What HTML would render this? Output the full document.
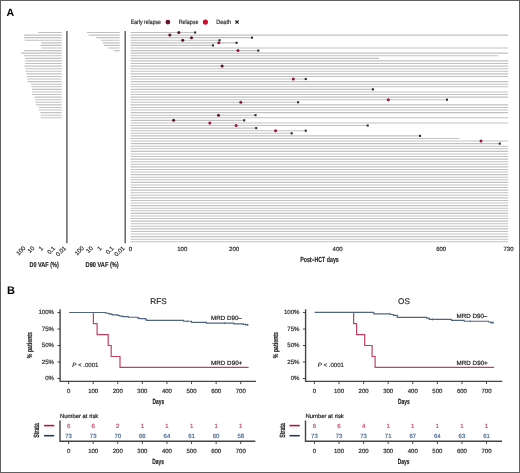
<!DOCTYPE html><html><head><meta charset="utf-8"><style>html,body{margin:0;padding:0;background:#fff}svg{display:block;will-change:transform}text{text-rendering:geometricPrecision;font-family:"Liberation Sans", sans-serif}</style></head><body>
<svg width="520" height="473" viewBox="0 0 520 473">
<rect x="0" y="0" width="520" height="473" fill="#fff"/>
<text x="6.60" y="15.70" font-size="10.60" fill="#000" text-anchor="start" font-weight="bold">A</text>
<text x="7.00" y="294.20" font-size="11.00" fill="#000" text-anchor="start" font-weight="bold">B</text>
<text x="130.80" y="24.40" font-size="6.10" fill="#333" text-anchor="start" stroke="#333" stroke-width="0.20" textLength="30.20" lengthAdjust="spacingAndGlyphs">Early relapse</text>
<circle cx="167.9" cy="22.1" r="2.4" fill="#6b1030"/>
<text x="178.70" y="24.40" font-size="6.10" fill="#333" text-anchor="start" stroke="#333" stroke-width="0.20" textLength="19.80" lengthAdjust="spacingAndGlyphs">Relapse</text>
<circle cx="205.4" cy="22.1" r="2.6" fill="#c8102e"/>
<text x="216.20" y="24.40" font-size="6.10" fill="#333" text-anchor="start" stroke="#333" stroke-width="0.20" textLength="14.90" lengthAdjust="spacingAndGlyphs">Death</text>
<path d="M235.40 20.50L238.60 23.70M235.40 23.70L238.60 20.50" stroke="#222" stroke-width="1.15" fill="none"/>
<path d="M37.90 32.50H61.8M24.10 35.08H61.8M24.10 37.67H61.8M24.70 40.25H61.8M41.40 42.84H61.8M40.80 45.42H61.8M41.40 48.00H61.8M24.10 50.59H61.8M20.90 53.17H61.8M24.10 55.76H61.8M25.20 58.34H61.8M25.50 60.92H61.8M25.20 63.51H61.8M24.40 66.09H61.8M25.20 68.68H61.8M25.50 71.26H61.8M26.40 73.84H61.8M26.60 76.43H61.8M27.20 79.01H61.8M27.50 81.60H61.8M31.00 84.18H61.8M31.50 86.76H61.8M32.10 89.35H61.8M32.10 91.93H61.8M32.10 94.52H61.8M34.50 97.10H61.8M35.20 99.68H61.8M35.40 102.27H61.8M36.00 104.85H61.8M38.80 107.44H61.8M38.80 110.02H61.8M40.30 112.60H61.8M40.60 115.19H61.8M40.60 117.77H61.8" stroke="#c1c1c1" stroke-width="1.1" fill="none"/>
<path d="M66.9 31V243.2" stroke="#636363" stroke-width="1.5" fill="none"/>
<path d="M86.90 32.50H119.8M88.50 35.08H119.8M96.10 37.67H119.8M100.80 40.25H119.8M102.60 42.84H119.8M103.90 45.42H119.8M108.20 48.00H119.8M114.00 50.59H119.8" stroke="#c1c1c1" stroke-width="1.1" fill="none"/>
<path d="M125.2 31V243.2" stroke="#636363" stroke-width="1.5" fill="none"/>
<text x="0" y="0" font-size="6.00" fill="#2e2e2e" stroke="#2e2e2e" stroke-width="0.2" text-anchor="end" transform="translate(25.80 248.60) rotate(-45)">100</text>
<text x="0" y="0" font-size="6.00" fill="#2e2e2e" stroke="#2e2e2e" stroke-width="0.2" text-anchor="end" transform="translate(34.80 248.60) rotate(-45)">10</text>
<text x="0" y="0" font-size="6.00" fill="#2e2e2e" stroke="#2e2e2e" stroke-width="0.2" text-anchor="end" transform="translate(43.50 248.60) rotate(-45)">1</text>
<text x="0" y="0" font-size="6.00" fill="#2e2e2e" stroke="#2e2e2e" stroke-width="0.2" text-anchor="end" transform="translate(55.60 248.60) rotate(-45)">0.1</text>
<text x="0" y="0" font-size="6.00" fill="#2e2e2e" stroke="#2e2e2e" stroke-width="0.2" text-anchor="end" transform="translate(66.60 248.60) rotate(-45)">0.01</text>
<text x="0" y="0" font-size="6.00" fill="#2e2e2e" stroke="#2e2e2e" stroke-width="0.2" text-anchor="end" transform="translate(84.30 248.60) rotate(-45)">100</text>
<text x="0" y="0" font-size="6.00" fill="#2e2e2e" stroke="#2e2e2e" stroke-width="0.2" text-anchor="end" transform="translate(93.30 248.60) rotate(-45)">10</text>
<text x="0" y="0" font-size="6.00" fill="#2e2e2e" stroke="#2e2e2e" stroke-width="0.2" text-anchor="end" transform="translate(102.00 248.60) rotate(-45)">1</text>
<text x="0" y="0" font-size="6.00" fill="#2e2e2e" stroke="#2e2e2e" stroke-width="0.2" text-anchor="end" transform="translate(114.10 248.60) rotate(-45)">0.1</text>
<text x="0" y="0" font-size="6.00" fill="#2e2e2e" stroke="#2e2e2e" stroke-width="0.2" text-anchor="end" transform="translate(125.10 248.60) rotate(-45)">0.01</text>
<text x="29.40" y="267.30" font-size="7.10" fill="#222" text-anchor="start" stroke="#222" stroke-width="0.15" font-weight="bold" textLength="29.40" lengthAdjust="spacingAndGlyphs">D0 VAF (%)</text>
<text x="85.60" y="267.30" font-size="7.10" fill="#222" text-anchor="start" stroke="#222" stroke-width="0.15" font-weight="bold" textLength="33.10" lengthAdjust="spacingAndGlyphs">D90 VAF (%)</text>
<path d="M130.50 32.50H195.10M130.50 35.08H508.20M130.50 37.67H252.00M130.50 40.25H219.60M130.50 42.84H236.60M130.50 45.42H213.00M130.50 48.00H508.20M130.50 50.59H258.30M130.50 53.17H508.20M130.50 55.76H498.00M130.50 58.34H379.00M130.50 60.92H508.20M130.50 63.51H508.20M130.50 66.09H508.20M130.50 68.68H508.20M130.50 71.26H508.20M130.50 73.84H508.20M130.50 76.43H508.20M130.50 79.01H305.80M130.50 81.60H508.20M130.50 84.18H508.20M130.50 86.76H508.20M130.50 89.35H372.90M130.50 91.93H508.20M130.50 94.52H508.20M130.50 97.10H508.20M130.50 99.68H447.00M130.50 102.27H298.10M130.50 104.85H508.20M130.50 107.44H508.20M130.50 110.02H508.20M130.50 112.60H508.20M130.50 115.19H255.50M130.50 117.77H508.20M130.50 120.36H244.20M130.50 122.94H508.20M130.50 125.52H367.70M130.50 128.11H256.20M130.50 130.69H305.80M130.50 133.28H291.70M130.50 135.86H420.00M130.50 138.44H459.40M130.50 141.03H508.20M130.50 143.61H499.80M130.50 146.20H508.20M130.50 148.78H508.20M130.50 151.36H508.20M130.50 153.95H508.20M130.50 156.53H508.20M130.50 159.12H508.20M130.50 161.70H508.20M130.50 164.28H508.20M130.50 166.87H508.20M130.50 169.45H508.20M130.50 172.04H508.20M130.50 174.62H508.20M130.50 177.20H508.20M130.50 179.79H508.20M130.50 182.37H508.20M130.50 184.96H508.20M130.50 187.54H508.20M130.50 190.12H508.20M130.50 192.71H508.20M130.50 195.29H508.20M130.50 197.88H508.20M130.50 200.46H508.20M130.50 203.04H508.20M130.50 205.63H508.20M130.50 208.21H508.20M130.50 210.80H508.20M130.50 213.38H508.20M130.50 215.96H508.20M130.50 218.55H508.20M130.50 221.13H508.20M130.50 223.72H508.20M130.50 226.30H508.20M130.50 228.88H508.20M130.50 231.47H508.20M130.50 234.05H508.20M130.50 236.64H508.20M130.50 239.22H508.20M130.50 241.80H508.20" stroke="#c1c1c1" stroke-width="1.1" fill="none"/>
<circle cx="178.80" cy="32.50" r="1.5" fill="#5a0f28"/>
<circle cx="169.80" cy="35.08" r="1.5" fill="#5a0f28"/>
<circle cx="191.50" cy="37.67" r="1.5" fill="#5a0f28"/>
<circle cx="182.70" cy="40.25" r="1.5" fill="#5a0f28"/>
<circle cx="173.60" cy="120.36" r="1.5" fill="#5a0f28"/>
<circle cx="222.10" cy="66.09" r="1.5" fill="#5a0f28"/>
<circle cx="218.50" cy="115.19" r="1.5" fill="#5a0f28"/>
<circle cx="218.80" cy="42.84" r="1.5" fill="#951636"/>
<circle cx="238.00" cy="50.59" r="1.5" fill="#951636"/>
<circle cx="293.30" cy="79.01" r="1.5" fill="#951636"/>
<circle cx="388.30" cy="99.68" r="1.5" fill="#951636"/>
<circle cx="240.80" cy="102.27" r="1.5" fill="#951636"/>
<circle cx="209.80" cy="122.94" r="1.5" fill="#951636"/>
<circle cx="236.10" cy="125.52" r="1.5" fill="#951636"/>
<circle cx="275.60" cy="130.69" r="1.5" fill="#951636"/>
<circle cx="481.00" cy="141.03" r="1.5" fill="#951636"/>
<rect x="194.05" y="31.45" width="2.1" height="2.1" fill="#2c2c2c"/>
<rect x="250.95" y="36.62" width="2.1" height="2.1" fill="#2c2c2c"/>
<rect x="218.55" y="39.20" width="2.1" height="2.1" fill="#2c2c2c"/>
<rect x="235.55" y="41.79" width="2.1" height="2.1" fill="#2c2c2c"/>
<rect x="211.95" y="44.37" width="2.1" height="2.1" fill="#2c2c2c"/>
<rect x="257.25" y="49.54" width="2.1" height="2.1" fill="#2c2c2c"/>
<rect x="304.75" y="77.96" width="2.1" height="2.1" fill="#2c2c2c"/>
<rect x="371.85" y="88.30" width="2.1" height="2.1" fill="#2c2c2c"/>
<rect x="445.95" y="98.63" width="2.1" height="2.1" fill="#2c2c2c"/>
<rect x="297.05" y="101.22" width="2.1" height="2.1" fill="#2c2c2c"/>
<rect x="254.45" y="114.14" width="2.1" height="2.1" fill="#2c2c2c"/>
<rect x="243.15" y="119.31" width="2.1" height="2.1" fill="#2c2c2c"/>
<rect x="366.65" y="124.47" width="2.1" height="2.1" fill="#2c2c2c"/>
<rect x="255.15" y="127.06" width="2.1" height="2.1" fill="#2c2c2c"/>
<rect x="304.75" y="129.64" width="2.1" height="2.1" fill="#2c2c2c"/>
<rect x="290.65" y="132.23" width="2.1" height="2.1" fill="#2c2c2c"/>
<rect x="418.95" y="134.81" width="2.1" height="2.1" fill="#2c2c2c"/>
<rect x="498.75" y="142.56" width="2.1" height="2.1" fill="#2c2c2c"/>
<text x="130.50" y="250.60" font-size="6.00" fill="#2e2e2e" text-anchor="middle" stroke="#2e2e2e" stroke-width="0.20">0</text>
<text x="182.28" y="250.60" font-size="6.00" fill="#2e2e2e" text-anchor="middle" stroke="#2e2e2e" stroke-width="0.20">100</text>
<text x="234.06" y="250.60" font-size="6.00" fill="#2e2e2e" text-anchor="middle" stroke="#2e2e2e" stroke-width="0.20">200</text>
<text x="337.62" y="250.60" font-size="6.00" fill="#2e2e2e" text-anchor="middle" stroke="#2e2e2e" stroke-width="0.20">400</text>
<text x="441.18" y="250.60" font-size="6.00" fill="#2e2e2e" text-anchor="middle" stroke="#2e2e2e" stroke-width="0.20">600</text>
<text x="508.50" y="250.60" font-size="6.00" fill="#2e2e2e" text-anchor="middle" stroke="#2e2e2e" stroke-width="0.20">730</text>
<text x="300.20" y="261.80" font-size="7.40" fill="#222" text-anchor="start" stroke="#222" stroke-width="0.15" font-weight="bold" textLength="38.60" lengthAdjust="spacingAndGlyphs">Post–HCT days</text>
<text x="158.50" y="304.00" font-size="8.20" fill="#2a2a2a" text-anchor="middle" stroke="#2a2a2a" stroke-width="0.20">RFS</text>
<path d="M60.10 309.2V381.4M59.40 381.4H256.00" stroke="#444" stroke-width="1.4" fill="none"/>
<text x="54.00" y="314.20" font-size="6.10" fill="#2e2e2e" text-anchor="end" stroke="#2e2e2e" stroke-width="0.20">100%</text>
<text x="54.00" y="330.68" font-size="6.10" fill="#2e2e2e" text-anchor="end" stroke="#2e2e2e" stroke-width="0.20">75%</text>
<text x="54.00" y="347.15" font-size="6.10" fill="#2e2e2e" text-anchor="end" stroke="#2e2e2e" stroke-width="0.20">50%</text>
<text x="54.00" y="363.62" font-size="6.10" fill="#2e2e2e" text-anchor="end" stroke="#2e2e2e" stroke-width="0.20">25%</text>
<text x="54.00" y="380.10" font-size="6.10" fill="#2e2e2e" text-anchor="end" stroke="#2e2e2e" stroke-width="0.20">0%</text>
<text x="68.60" y="392.80" font-size="6.00" fill="#2e2e2e" text-anchor="middle" stroke="#2e2e2e" stroke-width="0.20">0</text>
<text x="93.19" y="392.80" font-size="6.00" fill="#2e2e2e" text-anchor="middle" stroke="#2e2e2e" stroke-width="0.20">100</text>
<text x="117.78" y="392.80" font-size="6.00" fill="#2e2e2e" text-anchor="middle" stroke="#2e2e2e" stroke-width="0.20">200</text>
<text x="142.37" y="392.80" font-size="6.00" fill="#2e2e2e" text-anchor="middle" stroke="#2e2e2e" stroke-width="0.20">300</text>
<text x="166.96" y="392.80" font-size="6.00" fill="#2e2e2e" text-anchor="middle" stroke="#2e2e2e" stroke-width="0.20">400</text>
<text x="191.55" y="392.80" font-size="6.00" fill="#2e2e2e" text-anchor="middle" stroke="#2e2e2e" stroke-width="0.20">500</text>
<text x="216.14" y="392.80" font-size="6.00" fill="#2e2e2e" text-anchor="middle" stroke="#2e2e2e" stroke-width="0.20">600</text>
<text x="240.73" y="392.80" font-size="6.00" fill="#2e2e2e" text-anchor="middle" stroke="#2e2e2e" stroke-width="0.20">700</text>
<path d="M57.40 312.60H60.30M57.40 329.07H60.30M57.40 345.55H60.30M57.40 362.02H60.30M57.40 378.50H60.30M68.60 381.4V384.1M93.19 381.4V384.1M117.78 381.4V384.1M142.37 381.4V384.1M166.96 381.4V384.1M191.55 381.4V384.1M216.14 381.4V384.1M240.73 381.4V384.1" stroke="#333" stroke-width="0.9" fill="none"/>
<text x="152.50" y="403.80" font-size="7.50" fill="#222" text-anchor="start" stroke="#222" stroke-width="0.15" font-weight="bold" textLength="11.70" lengthAdjust="spacingAndGlyphs">Days</text>
<text x="0" y="0" font-size="7.3" font-weight="bold" fill="#222" stroke="#222" stroke-width="0.15" text-anchor="middle" textLength="26.2" lengthAdjust="spacingAndGlyphs" transform="translate(32.00 345.1) rotate(-90)">% patients</text>
<text x="72.30" y="367.2" font-size="6.1" fill="#333" stroke="#333" stroke-width="0.2" textLength="26.2" lengthAdjust="spacingAndGlyphs"><tspan font-style="italic">P</tspan> &lt; .0001</text>
<text x="211.10" y="319.70" font-size="6.20" fill="#222" text-anchor="start" stroke="#222" stroke-width="0.20" textLength="30.70" lengthAdjust="spacingAndGlyphs">MRD D90–</text>
<text x="211.10" y="365.00" font-size="6.20" fill="#222" text-anchor="start" stroke="#222" stroke-width="0.20" textLength="31.20" lengthAdjust="spacingAndGlyphs">MRD D90+</text>
<path d="M93.40 312.50L93.40 323.60L97.10 323.60L97.10 334.60L108.20 334.60L108.20 345.50L111.20 345.50L111.20 356.50L120.00 356.50L120.00 367.30L248.60 367.30" stroke="#c2405f" stroke-width="1.2" fill="none"/>
<path d="M69.10 312.50L106.00 312.50L106.00 313.20L108.80 313.20L108.80 313.80L111.10 313.80L111.10 314.30L112.30 314.30L112.30 314.90L118.00 314.90L118.00 315.50L119.80 315.50L119.80 316.10L122.70 316.10L122.70 316.60L128.40 316.60L128.40 317.20L137.70 317.20L137.70 318.10L139.40 318.10L139.40 318.60L145.80 318.60L145.80 319.80L146.90 319.80L146.90 320.30L183.70 320.30L183.70 321.20L191.50 321.20L191.50 322.40L206.30 322.40L206.30 323.10L234.00 323.10L234.00 323.80L243.30 323.80L243.30 324.50L247.00 324.50L247.00 324.90L248.50 324.90" stroke="#4f6681" stroke-width="1.15" fill="none"/>
<path d="M187.20 320.10V322.30M224.60 322.00V324.20M245.50 323.40V325.60M247.50 323.80V326.00" stroke="#4f6681" stroke-width="0.7" fill="none"/>
<text x="60.00" y="417.70" font-size="5.90" fill="#222" text-anchor="start" stroke="#222" stroke-width="0.20" textLength="38.30" lengthAdjust="spacingAndGlyphs">Number at risk</text>
<text x="0" y="0" font-size="7.8" font-weight="bold" fill="#222" stroke="#222" stroke-width="0.15" text-anchor="middle" textLength="14.6" lengthAdjust="spacingAndGlyphs" transform="translate(39.20 430.4) rotate(-90)">Strata</text>
<path d="M44.10 425.6H54.20" stroke="#b01838" stroke-width="1.6"/>
<path d="M44.10 435.7H54.20" stroke="#1f3a5f" stroke-width="1.6"/>
<path d="M60.00 420.5V441.3M59.30 441.3H255.30" stroke="#444" stroke-width="1.4" fill="none"/>
<text x="68.60" y="453.20" font-size="6.00" fill="#2e2e2e" text-anchor="middle" stroke="#2e2e2e" stroke-width="0.20">0</text>
<text x="68.60" y="428.10" font-size="6.00" fill="#d04a66" text-anchor="middle" stroke="#d04a66" stroke-width="0.20">6</text>
<text x="68.60" y="437.60" font-size="6.00" fill="#4d6d92" text-anchor="middle" stroke="#4d6d92" stroke-width="0.20">73</text>
<text x="93.19" y="453.20" font-size="6.00" fill="#2e2e2e" text-anchor="middle" stroke="#2e2e2e" stroke-width="0.20">100</text>
<text x="93.19" y="428.10" font-size="6.00" fill="#d04a66" text-anchor="middle" stroke="#d04a66" stroke-width="0.20">6</text>
<text x="93.19" y="437.60" font-size="6.00" fill="#4d6d92" text-anchor="middle" stroke="#4d6d92" stroke-width="0.20">73</text>
<text x="117.78" y="453.20" font-size="6.00" fill="#2e2e2e" text-anchor="middle" stroke="#2e2e2e" stroke-width="0.20">200</text>
<text x="117.78" y="428.10" font-size="6.00" fill="#d04a66" text-anchor="middle" stroke="#d04a66" stroke-width="0.20">2</text>
<text x="117.78" y="437.60" font-size="6.00" fill="#4d6d92" text-anchor="middle" stroke="#4d6d92" stroke-width="0.20">70</text>
<text x="142.37" y="453.20" font-size="6.00" fill="#2e2e2e" text-anchor="middle" stroke="#2e2e2e" stroke-width="0.20">300</text>
<text x="142.37" y="428.10" font-size="6.00" fill="#d04a66" text-anchor="middle" stroke="#d04a66" stroke-width="0.20">1</text>
<text x="142.37" y="437.60" font-size="6.00" fill="#4d6d92" text-anchor="middle" stroke="#4d6d92" stroke-width="0.20">66</text>
<text x="166.96" y="453.20" font-size="6.00" fill="#2e2e2e" text-anchor="middle" stroke="#2e2e2e" stroke-width="0.20">400</text>
<text x="166.96" y="428.10" font-size="6.00" fill="#d04a66" text-anchor="middle" stroke="#d04a66" stroke-width="0.20">1</text>
<text x="166.96" y="437.60" font-size="6.00" fill="#4d6d92" text-anchor="middle" stroke="#4d6d92" stroke-width="0.20">64</text>
<text x="191.55" y="453.20" font-size="6.00" fill="#2e2e2e" text-anchor="middle" stroke="#2e2e2e" stroke-width="0.20">500</text>
<text x="191.55" y="428.10" font-size="6.00" fill="#d04a66" text-anchor="middle" stroke="#d04a66" stroke-width="0.20">1</text>
<text x="191.55" y="437.60" font-size="6.00" fill="#4d6d92" text-anchor="middle" stroke="#4d6d92" stroke-width="0.20">61</text>
<text x="216.14" y="453.20" font-size="6.00" fill="#2e2e2e" text-anchor="middle" stroke="#2e2e2e" stroke-width="0.20">600</text>
<text x="216.14" y="428.10" font-size="6.00" fill="#d04a66" text-anchor="middle" stroke="#d04a66" stroke-width="0.20">1</text>
<text x="216.14" y="437.60" font-size="6.00" fill="#4d6d92" text-anchor="middle" stroke="#4d6d92" stroke-width="0.20">60</text>
<text x="240.73" y="453.20" font-size="6.00" fill="#2e2e2e" text-anchor="middle" stroke="#2e2e2e" stroke-width="0.20">700</text>
<text x="240.73" y="428.10" font-size="6.00" fill="#d04a66" text-anchor="middle" stroke="#d04a66" stroke-width="0.20">1</text>
<text x="240.73" y="437.60" font-size="6.00" fill="#4d6d92" text-anchor="middle" stroke="#4d6d92" stroke-width="0.20">58</text>
<path d="M68.60 441.3V444M93.19 441.3V444M117.78 441.3V444M142.37 441.3V444M166.96 441.3V444M191.55 441.3V444M216.14 441.3V444M240.73 441.3V444" stroke="#333" stroke-width="0.9" fill="none"/>
<text x="152.20" y="464.20" font-size="7.50" fill="#222" text-anchor="start" stroke="#222" stroke-width="0.15" font-weight="bold" textLength="11.70" lengthAdjust="spacingAndGlyphs">Days</text>
<text x="404.00" y="304.00" font-size="8.20" fill="#2a2a2a" text-anchor="middle" stroke="#2a2a2a" stroke-width="0.20">OS</text>
<path d="M305.60 309.2V381.4M304.90 381.4H502.30" stroke="#444" stroke-width="1.4" fill="none"/>
<text x="299.50" y="314.20" font-size="6.10" fill="#2e2e2e" text-anchor="end" stroke="#2e2e2e" stroke-width="0.20">100%</text>
<text x="299.50" y="330.68" font-size="6.10" fill="#2e2e2e" text-anchor="end" stroke="#2e2e2e" stroke-width="0.20">75%</text>
<text x="299.50" y="347.15" font-size="6.10" fill="#2e2e2e" text-anchor="end" stroke="#2e2e2e" stroke-width="0.20">50%</text>
<text x="299.50" y="363.62" font-size="6.10" fill="#2e2e2e" text-anchor="end" stroke="#2e2e2e" stroke-width="0.20">25%</text>
<text x="299.50" y="380.10" font-size="6.10" fill="#2e2e2e" text-anchor="end" stroke="#2e2e2e" stroke-width="0.20">0%</text>
<text x="314.40" y="392.80" font-size="6.00" fill="#2e2e2e" text-anchor="middle" stroke="#2e2e2e" stroke-width="0.20">0</text>
<text x="338.99" y="392.80" font-size="6.00" fill="#2e2e2e" text-anchor="middle" stroke="#2e2e2e" stroke-width="0.20">100</text>
<text x="363.58" y="392.80" font-size="6.00" fill="#2e2e2e" text-anchor="middle" stroke="#2e2e2e" stroke-width="0.20">200</text>
<text x="388.17" y="392.80" font-size="6.00" fill="#2e2e2e" text-anchor="middle" stroke="#2e2e2e" stroke-width="0.20">300</text>
<text x="412.76" y="392.80" font-size="6.00" fill="#2e2e2e" text-anchor="middle" stroke="#2e2e2e" stroke-width="0.20">400</text>
<text x="437.35" y="392.80" font-size="6.00" fill="#2e2e2e" text-anchor="middle" stroke="#2e2e2e" stroke-width="0.20">500</text>
<text x="461.94" y="392.80" font-size="6.00" fill="#2e2e2e" text-anchor="middle" stroke="#2e2e2e" stroke-width="0.20">600</text>
<text x="486.53" y="392.80" font-size="6.00" fill="#2e2e2e" text-anchor="middle" stroke="#2e2e2e" stroke-width="0.20">700</text>
<path d="M302.90 312.60H305.80M302.90 329.07H305.80M302.90 345.55H305.80M302.90 362.02H305.80M302.90 378.50H305.80M314.40 381.4V384.1M338.99 381.4V384.1M363.58 381.4V384.1M388.17 381.4V384.1M412.76 381.4V384.1M437.35 381.4V384.1M461.94 381.4V384.1M486.53 381.4V384.1" stroke="#333" stroke-width="0.9" fill="none"/>
<text x="398.00" y="403.80" font-size="7.50" fill="#222" text-anchor="start" stroke="#222" stroke-width="0.15" font-weight="bold" textLength="11.70" lengthAdjust="spacingAndGlyphs">Days</text>
<text x="0" y="0" font-size="7.3" font-weight="bold" fill="#222" stroke="#222" stroke-width="0.15" text-anchor="middle" textLength="26.2" lengthAdjust="spacingAndGlyphs" transform="translate(277.50 345.1) rotate(-90)">% patients</text>
<text x="317.80" y="367.2" font-size="6.1" fill="#333" stroke="#333" stroke-width="0.2" textLength="26.2" lengthAdjust="spacingAndGlyphs"><tspan font-style="italic">P</tspan> &lt; .0001</text>
<text x="456.60" y="318.30" font-size="6.20" fill="#222" text-anchor="start" stroke="#222" stroke-width="0.20" textLength="30.70" lengthAdjust="spacingAndGlyphs">MRD D90–</text>
<text x="456.60" y="365.00" font-size="6.20" fill="#222" text-anchor="start" stroke="#222" stroke-width="0.20" textLength="31.20" lengthAdjust="spacingAndGlyphs">MRD D90+</text>
<path d="M353.60 312.30L353.60 323.60L356.60 323.60L356.60 334.60L364.70 334.60L364.70 345.50L372.10 345.50L372.10 356.50L375.10 356.50L375.10 367.30L494.10 367.30" stroke="#c2405f" stroke-width="1.2" fill="none"/>
<path d="M314.60 312.30L373.80 312.30L373.80 313.80L390.40 313.80L390.40 314.50L393.50 314.50L393.50 315.30L397.30 315.30L397.30 317.40L426.50 317.40L426.50 318.10L429.20 318.10L429.20 319.40L451.50 319.40L451.50 320.30L464.20 320.30L464.20 321.20L488.40 321.20L488.40 322.00L490.70 322.00L490.70 322.60L493.60 322.60" stroke="#4f6681" stroke-width="1.15" fill="none"/>
<path d="M432.70 318.30V320.50M470.20 320.10V322.30M492.00 321.50V323.70M493.10 321.50V323.70" stroke="#4f6681" stroke-width="0.7" fill="none"/>
<text x="305.50" y="417.70" font-size="5.90" fill="#222" text-anchor="start" stroke="#222" stroke-width="0.20" textLength="38.30" lengthAdjust="spacingAndGlyphs">Number at risk</text>
<text x="0" y="0" font-size="7.8" font-weight="bold" fill="#222" stroke="#222" stroke-width="0.15" text-anchor="middle" textLength="14.6" lengthAdjust="spacingAndGlyphs" transform="translate(284.70 430.4) rotate(-90)">Strata</text>
<path d="M289.60 425.6H299.70" stroke="#b01838" stroke-width="1.6"/>
<path d="M289.60 435.7H299.70" stroke="#1f3a5f" stroke-width="1.6"/>
<path d="M305.50 420.5V441.3M304.80 441.3H502.10" stroke="#444" stroke-width="1.4" fill="none"/>
<text x="314.40" y="453.20" font-size="6.00" fill="#2e2e2e" text-anchor="middle" stroke="#2e2e2e" stroke-width="0.20">0</text>
<text x="314.40" y="428.10" font-size="6.00" fill="#d04a66" text-anchor="middle" stroke="#d04a66" stroke-width="0.20">6</text>
<text x="314.40" y="437.60" font-size="6.00" fill="#4d6d92" text-anchor="middle" stroke="#4d6d92" stroke-width="0.20">73</text>
<text x="338.99" y="453.20" font-size="6.00" fill="#2e2e2e" text-anchor="middle" stroke="#2e2e2e" stroke-width="0.20">100</text>
<text x="338.99" y="428.10" font-size="6.00" fill="#d04a66" text-anchor="middle" stroke="#d04a66" stroke-width="0.20">6</text>
<text x="338.99" y="437.60" font-size="6.00" fill="#4d6d92" text-anchor="middle" stroke="#4d6d92" stroke-width="0.20">73</text>
<text x="363.58" y="453.20" font-size="6.00" fill="#2e2e2e" text-anchor="middle" stroke="#2e2e2e" stroke-width="0.20">200</text>
<text x="363.58" y="428.10" font-size="6.00" fill="#d04a66" text-anchor="middle" stroke="#d04a66" stroke-width="0.20">4</text>
<text x="363.58" y="437.60" font-size="6.00" fill="#4d6d92" text-anchor="middle" stroke="#4d6d92" stroke-width="0.20">73</text>
<text x="388.17" y="453.20" font-size="6.00" fill="#2e2e2e" text-anchor="middle" stroke="#2e2e2e" stroke-width="0.20">300</text>
<text x="388.17" y="428.10" font-size="6.00" fill="#d04a66" text-anchor="middle" stroke="#d04a66" stroke-width="0.20">1</text>
<text x="388.17" y="437.60" font-size="6.00" fill="#4d6d92" text-anchor="middle" stroke="#4d6d92" stroke-width="0.20">71</text>
<text x="412.76" y="453.20" font-size="6.00" fill="#2e2e2e" text-anchor="middle" stroke="#2e2e2e" stroke-width="0.20">400</text>
<text x="412.76" y="428.10" font-size="6.00" fill="#d04a66" text-anchor="middle" stroke="#d04a66" stroke-width="0.20">1</text>
<text x="412.76" y="437.60" font-size="6.00" fill="#4d6d92" text-anchor="middle" stroke="#4d6d92" stroke-width="0.20">67</text>
<text x="437.35" y="453.20" font-size="6.00" fill="#2e2e2e" text-anchor="middle" stroke="#2e2e2e" stroke-width="0.20">500</text>
<text x="437.35" y="428.10" font-size="6.00" fill="#d04a66" text-anchor="middle" stroke="#d04a66" stroke-width="0.20">1</text>
<text x="437.35" y="437.60" font-size="6.00" fill="#4d6d92" text-anchor="middle" stroke="#4d6d92" stroke-width="0.20">64</text>
<text x="461.94" y="453.20" font-size="6.00" fill="#2e2e2e" text-anchor="middle" stroke="#2e2e2e" stroke-width="0.20">600</text>
<text x="461.94" y="428.10" font-size="6.00" fill="#d04a66" text-anchor="middle" stroke="#d04a66" stroke-width="0.20">1</text>
<text x="461.94" y="437.60" font-size="6.00" fill="#4d6d92" text-anchor="middle" stroke="#4d6d92" stroke-width="0.20">63</text>
<text x="486.53" y="453.20" font-size="6.00" fill="#2e2e2e" text-anchor="middle" stroke="#2e2e2e" stroke-width="0.20">700</text>
<text x="486.53" y="428.10" font-size="6.00" fill="#d04a66" text-anchor="middle" stroke="#d04a66" stroke-width="0.20">1</text>
<text x="486.53" y="437.60" font-size="6.00" fill="#4d6d92" text-anchor="middle" stroke="#4d6d92" stroke-width="0.20">61</text>
<path d="M314.40 441.3V444M338.99 441.3V444M363.58 441.3V444M388.17 441.3V444M412.76 441.3V444M437.35 441.3V444M461.94 441.3V444M486.53 441.3V444" stroke="#333" stroke-width="0.9" fill="none"/>
<text x="397.70" y="464.20" font-size="7.50" fill="#222" text-anchor="start" stroke="#222" stroke-width="0.15" font-weight="bold" textLength="11.70" lengthAdjust="spacingAndGlyphs">Days</text>
<rect x="0.5" y="0.5" width="519" height="472" fill="none" stroke="#606060" stroke-width="1"/>
</svg></body></html>
